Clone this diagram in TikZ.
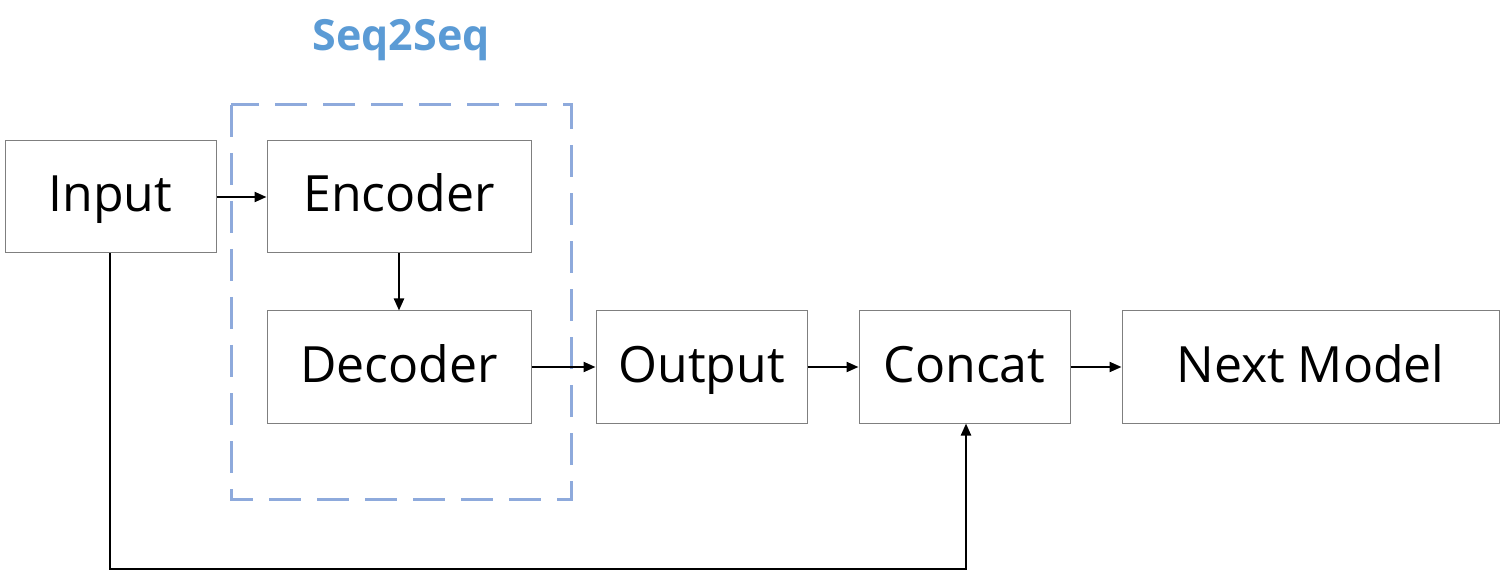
\documentclass[tikz,border=0pt]{standalone}
\usepackage{fontspec}
\setmainfont{Open Sans}
\usetikzlibrary{arrows.meta}
\definecolor{boxgray}{HTML}{7F7F7F}
\definecolor{dashblue}{HTML}{8EAADC}
\definecolor{titleblue}{HTML}{5B9BD5}
\begin{document}
\begin{tikzpicture}[x=0.5pt,y=-0.5pt,
  blk/.style={draw=boxgray,line width=0.5pt,fill=white,inner sep=0pt,text height=20pt,text depth=5pt,font=\fontsize{25}{30}\selectfont},
  conn/.style={line width=1.1pt,-{Triangle[length=6pt,width=5pt]}},
  grp/.style={draw=dashblue,line width=1.5pt,dash pattern=on 16pt off 8pt}]
\useasboundingbox (0,0) rectangle (1505,572);
\draw[grp] (231,105) rectangle (571,499);
\node[font=\bfseries\fontsize{21.5}{26}\selectfont,text=titleblue] (title) at (401,40) {Seq2Seq};
\node[blk,minimum width=105.5pt,minimum height=56pt] (input) at (110.5,197) {Input};
\node[blk,minimum width=132pt,minimum height=56pt] (enc) at (399,197) {Encoder};
\node[blk,minimum width=132pt,minimum height=56pt] (dec) at (399,367) {Decoder};
\node[blk,minimum width=105.5pt,minimum height=56pt] (out) at (701.5,367) {Output};
\node[blk,minimum width=105.5pt,minimum height=56pt] (cat) at (964.5,367) {Concat};
\node[blk,minimum width=188.5pt,minimum height=56pt] (next) at (1310.5,367) {Next Model};
\coordinate (c1) at (110,569);
\coordinate (c2) at (966,569);
\draw[conn] (input) -- (enc);
\draw[conn] (enc) -- (dec);
\draw[conn] (dec) -- (out);
\draw[conn] (out) -- (cat);
\draw[conn] (cat) -- (next);
\draw[conn] (input.south -| c1) -- (c1) -- (c2) -- (cat.south -| c2);
\end{tikzpicture}
\end{document}
